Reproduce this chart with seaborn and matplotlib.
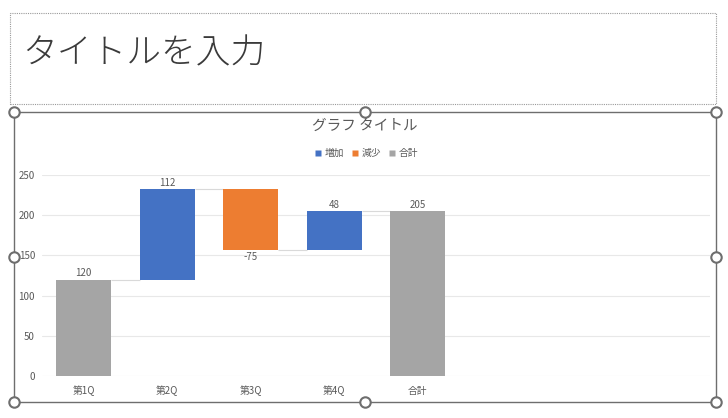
import matplotlib
matplotlib.use("Agg")
import matplotlib.pyplot as plt
from matplotlib.patches import Rectangle
from matplotlib.lines import Line2D
import seaborn as sns
import pandas as pd

categories = ["第1Q", "第2Q", "第3Q", "第4Q", "合計"]
changes = [120, 112, -75, 48, 205]
kinds = ["合計", "増加", "減少", "増加", "合計"]
legend_labels = ["増加", "減少", "合計"]
kind_colors = {"増加": "#4472C4", "減少": "#ED7D31", "合計": "#A5A5A5"}
yticks = [0, 50, 100, 150, 200, 250]

# waterfall geometry derived from the data
bottoms, tops, ends = [], [], []
running = 0
for k, v in zip(kinds, changes):
    if k == "合計":
        b, t = 0, v
        running = v
    else:
        b, t = running, running + v
        running = t
    bottoms.append(min(b, t))
    tops.append(max(b, t))
    ends.append(running)
heights = [t - b for b, t in zip(bottoms, tops)]

sns.set_theme(style="white")
plt.rcParams["font.family"] = ["Noto Sans CJK JP", "DejaVu Sans"]

fig = plt.figure(figsize=(7.28, 4.18), dpi=100)
W, H = 728, 418

def fx(px):
    return px / W

def fy(py):
    return 1 - py / H

# slide title placeholder (dotted box)
fig.patches.append(Rectangle((fx(10), fy(104)), fx(716) - fx(10), fy(13) - fy(104),
                             transform=fig.transFigure, fill=False, edgecolor="#9a9a9a",
                             lw=0.8, linestyle=(0, (1, 1))))
fig.text(fx(22), fy(53), "タイトルを入力", fontsize=25, color="#3a3a3a",
         va="center", ha="left", fontweight="light")

# chart frame (selected)
fig.patches.append(Rectangle((fx(14), fy(402)), fx(716) - fx(14), fy(112) - fy(402),
                             transform=fig.transFigure, fill=False, edgecolor="#6e6e6e", lw=1.0))

ax = fig.add_axes([fx(42), fy(376), fx(710) - fx(42), fy(175) - fy(376)])

bw = 0.66
df = pd.DataFrame({"cat": categories, "h": heights})
sns.barplot(data=df, x="cat", y="h", ax=ax, width=bw, color="#A5A5A5",
            errorbar=None, saturation=1, zorder=3)
for p, b, k in zip(ax.patches, bottoms, kinds):
    p.set_y(b)
    p.set_facecolor(kind_colors[k])
    p.set_edgecolor("none")

# connectors
for i in range(len(categories) - 1):
    ax.hlines(ends[i], i + bw / 2, i + 1 - bw / 2, color="#d9d9d9", lw=0.8, zorder=2)

# data labels
for i, (v, b, t) in enumerate(zip(changes, bottoms, tops)):
    if v < 0:
        ax.text(i, b - 3, f"{v}", ha="center", va="top", fontsize=7, color="#595959")
    else:
        ax.text(i, t + 2, f"{v}", ha="center", va="bottom", fontsize=7, color="#595959")

ax.set_xlim(-0.5, 7.5)
ax.set_ylim(0, 250)
ax.set_yticks(yticks)
ax.set_yticklabels([str(t) for t in yticks])
ax.yaxis.grid(True, color="#e8e8e8", lw=0.8, zorder=0)
ax.xaxis.grid(False)
ax.set_axisbelow(True)
for s in ax.spines.values():
    s.set_visible(False)
ax.tick_params(axis="y", length=0, pad=5, labelsize=7, labelcolor="#595959")
ax.tick_params(axis="x", length=0, pad=7, labelsize=7, labelcolor="#595959")
ax.set_xlabel("")
ax.set_ylabel("")

# chart title and legend
fig.text(fx(365), fy(126), "グラフ タイトル", ha="center", va="center",
         fontsize=10.5, color="#595959")
handles = [Line2D([0], [0], marker="s", linestyle="none", markersize=4.5,
                  markerfacecolor=kind_colors[k], markeredgecolor="none", label=k)
           for k in legend_labels]
fig.legend(handles=handles, loc="center", bbox_to_anchor=(fx(366), fy(153)), ncol=3,
           frameon=False, fontsize=7, labelcolor="#595959", handletextpad=0.3,
           columnspacing=0.7, handlelength=0.8)

# selection handles
hx = [14, 365, 716, 14, 716, 14, 365, 716]
hy = [112, 112, 112, 257, 257, 402, 402, 402]
fig.add_artist(Line2D([fx(x) for x in hx], [fy(y) for y in hy], transform=fig.transFigure,
                      linestyle="none", marker="o", markersize=7.5,
                      markerfacecolor="white", markeredgecolor="#6e6e6e", markeredgewidth=1.5))

fig.savefig("out.png", dpi=100)
